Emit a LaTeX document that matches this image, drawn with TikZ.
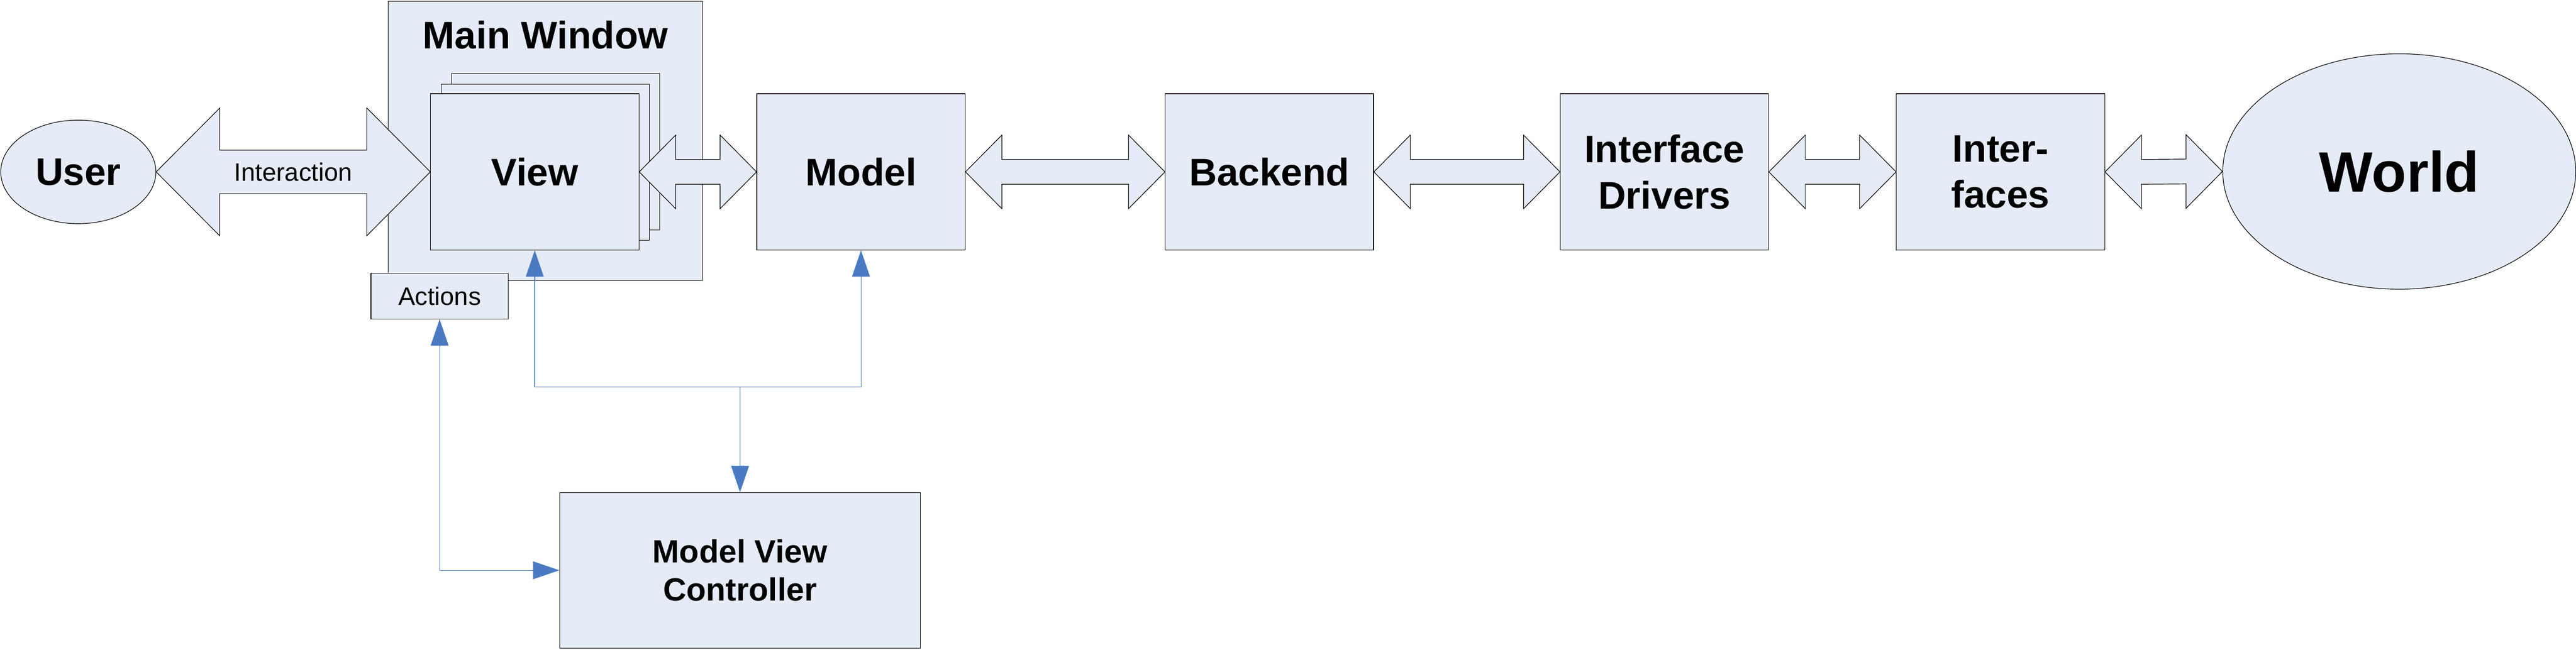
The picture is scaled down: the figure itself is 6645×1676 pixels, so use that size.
\documentclass[tikz,border=0pt]{standalone}
\usepackage{fontspec}
\setmainfont{Liberation Sans}
\usetikzlibrary{calc,arrows.meta,shapes.geometric}
\definecolor{boxfill}{HTML}{E6ECF7}
\definecolor{connblue}{HTML}{4A7AC2}
\newcommand\fntbig{\fontsize{28.2pt}{33.9pt}\selectfont\bfseries}
\newcommand\fntsmall{\fontsize{18.5pt}{22pt}\selectfont}
\newcommand\fntmvc{\fontsize{23.6pt}{28.2pt}\selectfont\bfseries}
\newcommand\fntworld{\fontsize{41.7pt}{50pt}\selectfont\bfseries}
% block double arrow: #1 left tip, #2 right tip, #3 head length, #4 half head width, #5 half shaft width
\newcommand\blockarrow[5]{%
  \draw[barrow] (#1) -- ($(#1)+(#3,-#4)$) -- ($(#1)+(#3,-#5)$) -- ($(#2)+(-#3,-#5)$)
    -- ($(#2)+(-#3,-#4)$) -- (#2) -- ($(#2)+(-#3,#4)$) -- ($(#2)+(-#3,#5)$)
    -- ($(#1)+(#3,#5)$) -- ($(#1)+(#3,#4)$) -- cycle;}
\begin{document}
\begin{tikzpicture}[x=0.01cm,y=-0.01cm,
  box/.style={draw=black, line width=0.45pt, fill=boxfill, inner sep=0pt, align=center},
  stdbox/.style={box, minimum width=5.37cm, minimum height=4.03cm, font=\fntbig},
  barrow/.style={draw=black, line width=0.45pt, fill=boxfill, line join=miter},
  conn/.style={draw=connblue, line width=0.5pt},
  tipb/.tip={Triangle[length=0.68cm, width=0.46cm]}]
\useasboundingbox (0,0) rectangle (6645,1676);

% main window with stacked views
\node[box, minimum width=8.10cm, minimum height=7.20cm] (mainwin) at (1407,363) {};
\node[font=\fntbig, anchor=base, inner sep=0pt] (mwtitle) at (1407,126) {Main Window};
\node[box, minimum width=5.37cm, minimum height=4.03cm] (view3) at (1433.5,391.5) {};
\node[box, minimum width=5.37cm, minimum height=4.03cm] (view2) at (1406.5,418.5) {};
\node[stdbox] (view) at (1379.5,443.5) {View};

% chain
\node[box, ellipse, minimum width=4.00cm, minimum height=2.67cm, font=\fntbig] (user) at (202,443.5) {User};
\node[stdbox] (model) at (2221,443.5) {Model};
\node[stdbox] (backend) at (3274.5,443.5) {Backend};
\node[stdbox] (drivers) at (4293.5,443.5) {Interface\\Drivers};
\node[stdbox] (interfaces) at (5160.5,443.5) {Inter-\\faces};
\node[box, ellipse, minimum width=9.10cm, minimum height=6.07cm, font=\fntworld] (world) at (6189,442.5) {World};

% block arrows
\blockarrow{user.east}{view.west}{164}{165}{56}
\node[font=\fntsmall, inner sep=0pt] (interlabel) at ($(user.east)!0.5!(view.west)$) {Interaction};
\blockarrow{view.east}{model.west}{94}{95}{32}
\blockarrow{model.east}{backend.west}{94}{95}{32}
\blockarrow{backend.east}{drivers.west}{94}{95}{32}
\blockarrow{drivers.east}{interfaces.west}{94}{95}{32}
\blockarrow{interfaces.east}{world.west}{94}{95}{32}

% actions and controller
\node[box, minimum width=3.54cm, minimum height=1.18cm, font=\fntsmall] (actions) at (1134,764) {Actions};
\node[box, minimum width=9.30cm, minimum height=4.01cm, font=\fntmvc] (mvc) at (1909,1471.5) {Model View\\Controller};

% blue connectors
\coordinate (junc) at (1909,999);
\draw[conn, -tipb] (junc) -| (view.south);
\draw[conn, -tipb] (junc) -| (model.south);
\draw[conn, -tipb] (junc) -- (mvc.north);
\draw[conn, tipb-tipb] (actions.south) |- (mvc.west);
\end{tikzpicture}
\end{document}
